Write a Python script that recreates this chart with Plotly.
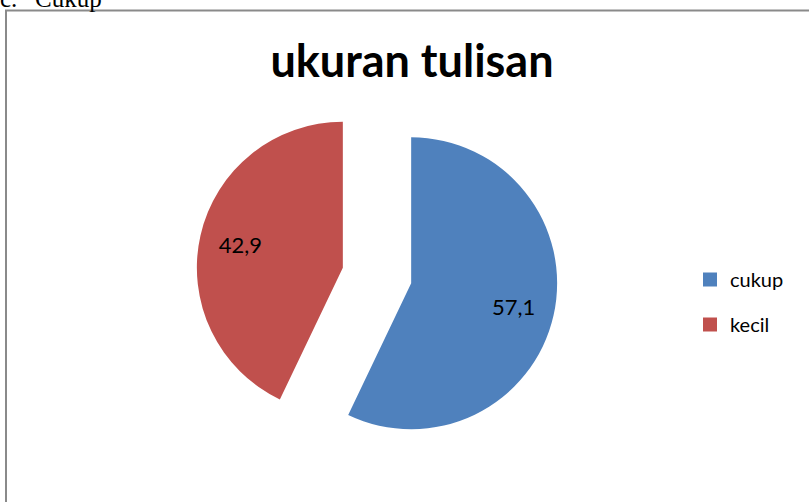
import plotly.graph_objects as go

# data
labels = ["cukup", "kecil"]
values = [57.1, 42.9]
colors = ["#4F81BD", "#C0504D"]
pull = [0.24, 0.24]

W, H = 809, 502
dom = dict(x=[196 / W, 558 / W], y=[45.5 / H, 407.5 / H])

fig = go.Figure()

# the slices
fig.add_trace(go.Pie(
    labels=labels, values=values, sort=False, direction="clockwise", rotation=0,
    marker=dict(colors=colors, line=dict(width=0)),
    pull=pull, textinfo="none", domain=dom,
    showlegend=False, hoverinfo="label+value",
))

# value labels, set out in the outer ring of each slice like the original
fig.add_trace(go.Pie(
    labels=labels, values=values, sort=False, direction="clockwise", rotation=0,
    marker=dict(colors=["rgba(0,0,0,0)"] * len(labels), line=dict(width=0)),
    pull=pull, hole=0.44, textinfo="value", textposition="inside",
    insidetextorientation="horizontal",
    textfont=dict(family="Lato", size=22, color="#000000"),
    domain=dom, showlegend=False, hoverinfo="skip",
))

# legend entries (spaced like the original)
for lab, col in zip(labels, colors):
    fig.add_trace(go.Scatter(
        x=[None], y=[None], mode="markers", name=lab,
        marker=dict(symbol="square", size=14, color=col),
        legendgroup=lab, showlegend=True,
    ))

fig.update_xaxes(visible=False)
fig.update_yaxes(visible=False)

# outer frame of the chart area
fig.add_shape(type="rect", xref="paper", yref="paper",
              x0=6 / W, x1=1.05, y0=-0.1, y1=1 - 10.5 / H,
              line=dict(color="#8a8a8a", width=2), fillcolor="rgba(0,0,0,0)")

# cut-off heading from the page above
serif = dict(family="Liberation Serif", size=25, color="#000")
fig.add_annotation(text="c.", xref="paper", yref="paper",
                   x=-2 / W, y=1 - 14 / H, xanchor="left", yanchor="bottom",
                   showarrow=False, font=serif)
fig.add_annotation(text="Cukup", xref="paper", yref="paper",
                   x=33 / W, y=1 - 14 / H, xanchor="left", yanchor="bottom",
                   showarrow=False, font=serif)

fig.update_layout(
    width=W, height=H,
    margin=dict(l=0, r=0, t=0, b=0),
    paper_bgcolor="white", plot_bgcolor="white",
    separators=",.",
    title=dict(text="<b>ukuran tulisan</b>", x=412 / W, xanchor="center",
               y=1 - 61 / H, yanchor="middle",
               font=dict(family="Lato", size=45, color="#000")),
    legend=dict(x=690 / W, y=1 - 260 / H, xanchor="left", yanchor="top",
                font=dict(family="Lato", size=20, color="#000"),
                tracegroupgap=16, itemwidth=30, bgcolor="rgba(0,0,0,0)"),
)

fig.write_html("out.html", config={"displayModeBar": False},
               post_script="document.body.style.margin='0';")
